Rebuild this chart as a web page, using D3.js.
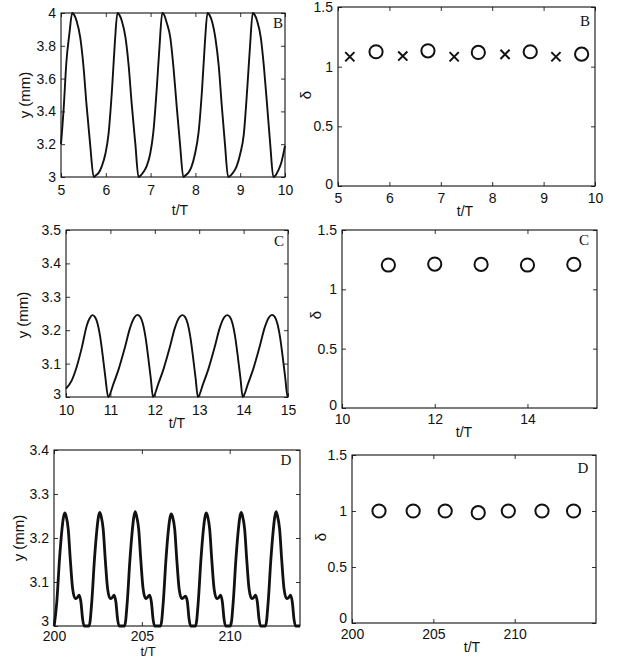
<!DOCTYPE html>
<html>
<head>
<meta charset="utf-8">
<script src="https://d3js.org/d3.v7.min.js"></script>
<style>
  body { margin: 0; background: #fff; }
  text { font-family: "Liberation Sans", Arial, sans-serif; fill: #111; }
</style>
</head>
<body>
<div id="figure"></div>
<script>

// ---- data ----

// panel B, left: y (mm) vs t/T
var bT = [5.00, 5.06, 5.12, 5.19, 5.25, 5.29, 5.35, 5.43, 5.50, 5.57, 5.65, 5.73,
  5.78, 5.84, 5.91, 5.99, 6.06, 6.14, 6.20, 6.26, 6.30, 6.36, 6.44, 6.51, 6.58, 6.66, 6.73,
  6.78, 6.84, 6.91, 6.99, 7.06, 7.14, 7.20, 7.26, 7.30, 7.36, 7.44, 7.51, 7.58, 7.66, 7.73,
  7.78, 7.84, 7.91, 7.99, 8.07, 8.15, 8.21, 8.27, 8.31, 8.37, 8.45, 8.52, 8.59, 8.66, 8.73,
  8.79, 8.85, 8.92, 9.00, 9.08, 9.16, 9.22, 9.28, 9.32, 9.38, 9.46, 9.53, 9.60, 9.67, 9.74,
  9.79, 9.85, 9.92, 10.00];
var bY = [3.20, 3.42, 3.70, 3.88, 4.00, 3.99, 3.95, 3.85, 3.68, 3.44, 3.20, 3.00,
  3.01, 3.025, 3.065, 3.14, 3.26, 3.54, 3.81, 4.00, 3.99, 3.95, 3.85, 3.68, 3.44, 3.20, 3.00,
  3.01, 3.03, 3.065, 3.14, 3.27, 3.55, 3.80, 4.00, 3.99, 3.94, 3.85, 3.67, 3.44, 3.19, 3.00,
  3.01, 3.025, 3.06, 3.14, 3.27, 3.54, 3.81, 4.00, 3.99, 3.95, 3.84, 3.68, 3.43, 3.20, 3.00,
  3.01, 3.03, 3.065, 3.14, 3.26, 3.55, 3.80, 4.00, 3.99, 3.95, 3.85, 3.67, 3.44, 3.20, 3.00,
  3.01, 3.04, 3.09, 3.19];

// panel B, right: delta
var bCircT = [5.74, 6.75, 7.73, 8.74, 9.74];
var bCircD = [1.125, 1.133, 1.119, 1.125, 1.105];
var bCrossT = [5.23, 6.26, 7.26, 8.25, 9.24];
var bCrossD = [1.083, 1.089, 1.083, 1.103, 1.083];

// panel C, left
var cT = [10.00, 10.13, 10.24, 10.36, 10.47, 10.54, 10.59, 10.65, 10.71, 10.77, 10.84, 10.89, 10.95,
  11.07, 11.19, 11.32, 11.45, 11.54, 11.61, 11.67, 11.73, 11.79, 11.86, 11.91, 11.96,
  12.08, 12.20, 12.33, 12.46, 12.55, 12.62, 12.68, 12.74, 12.80, 12.87, 12.92, 12.97,
  13.09, 13.21, 13.34, 13.47, 13.56, 13.63, 13.69, 13.75, 13.81, 13.88, 13.93, 13.98,
  14.10, 14.22, 14.35, 14.48, 14.57, 14.64, 14.70, 14.76, 14.82, 14.89, 14.94, 14.99, 15.00];
var cY = [3.025, 3.05, 3.09, 3.15, 3.215, 3.237, 3.245, 3.24, 3.22, 3.18, 3.11, 3.055, 3.00,
  3.04, 3.085, 3.145, 3.21, 3.238, 3.246, 3.24, 3.22, 3.18, 3.11, 3.055, 3.00,
  3.04, 3.085, 3.145, 3.21, 3.238, 3.245, 3.24, 3.22, 3.18, 3.11, 3.055, 3.00,
  3.04, 3.085, 3.145, 3.21, 3.238, 3.245, 3.24, 3.22, 3.18, 3.11, 3.055, 3.00,
  3.04, 3.085, 3.145, 3.21, 3.238, 3.246, 3.24, 3.22, 3.18, 3.11, 3.055, 3.00, 3.00];

// panel C, right
var cCircT = [11, 12, 13, 14, 15];
var cCircD = [1.205, 1.213, 1.21, 1.205, 1.21];

// panel D, left
var dT = [200.01, 200.16, 200.31, 200.43, 200.53, 200.61, 200.69, 200.81, 200.93, 201.06, 201.21, 201.33, 201.43, 201.53, 201.63, 201.71, 201.86,
  202.00, 202.15, 202.30, 202.42, 202.52, 202.60, 202.68, 202.80, 202.92, 203.05, 203.20, 203.32, 203.42, 203.52, 203.62, 203.70, 203.85,
  204.02, 204.17, 204.32, 204.44, 204.54, 204.62, 204.70, 204.82, 204.94, 205.07, 205.22, 205.34, 205.44, 205.54, 205.64, 205.72, 205.87,
  206.07, 206.22, 206.37, 206.49, 206.59, 206.67, 206.75, 206.87, 206.99, 207.12, 207.27, 207.39, 207.49, 207.59, 207.69, 207.77, 207.92,
  208.06, 208.21, 208.36, 208.48, 208.58, 208.66, 208.74, 208.86, 208.98, 209.11, 209.26, 209.38, 209.48, 209.58, 209.68, 209.76, 209.91,
  210.05, 210.20, 210.35, 210.47, 210.57, 210.65, 210.73, 210.85, 210.97, 211.10, 211.25, 211.37, 211.47, 211.57, 211.67, 211.75, 211.90,
  212.04, 212.19, 212.34, 212.46, 212.56, 212.64, 212.72, 212.84, 212.96, 213.09, 213.24, 213.36, 213.46, 213.56, 213.66, 213.74, 213.89, 214.00];
var dY = [3.00, 3.055, 3.15, 3.21, 3.245, 3.257, 3.25, 3.22, 3.15, 3.085, 3.062, 3.065, 3.07, 3.055, 3.015, 3.00, 3.00,
  3.00, 3.055, 3.15, 3.21, 3.246, 3.258, 3.25, 3.22, 3.15, 3.085, 3.062, 3.065, 3.07, 3.055, 3.015, 3.00, 3.00,
  3.00, 3.055, 3.15, 3.21, 3.247, 3.26, 3.25, 3.22, 3.15, 3.085, 3.062, 3.066, 3.07, 3.055, 3.015, 3.00, 3.00,
  3.00, 3.055, 3.15, 3.21, 3.244, 3.255, 3.248, 3.22, 3.15, 3.085, 3.062, 3.065, 3.068, 3.055, 3.015, 3.00, 3.00,
  3.00, 3.055, 3.15, 3.21, 3.245, 3.257, 3.25, 3.22, 3.15, 3.085, 3.062, 3.065, 3.07, 3.055, 3.015, 3.00, 3.00,
  3.00, 3.055, 3.15, 3.21, 3.246, 3.258, 3.25, 3.22, 3.15, 3.085, 3.062, 3.065, 3.07, 3.055, 3.015, 3.00, 3.00,
  3.00, 3.055, 3.15, 3.21, 3.247, 3.26, 3.25, 3.22, 3.15, 3.085, 3.062, 3.065, 3.07, 3.055, 3.015, 3.00, 3.00, 3.00];

// panel D, right
var dCircT = [201.66, 203.76, 205.73, 207.76, 209.61, 211.68, 213.62];
var dCircD = [1.0, 1.0, 1.0, 0.985, 1.0, 1.0, 1.0];

// tick values
var yTicksB = [3, 3.2, 3.4, 3.6, 3.8, 4];
var yTicksC = [3, 3.1, 3.2, 3.3, 3.4, 3.5];
var yTicksD = [3, 3.1, 3.2, 3.3, 3.4];
var deltaTicks = [0, 0.5, 1, 1.5];
var xTicksB = [5, 6, 7, 8, 9, 10];
var xTicksC = [10, 11, 12, 13, 14, 15];
var xTicksCd = [10, 12, 14];
var xTicksD = [200, 205, 210];

// ---- drawing ----

var svg = d3.select("#figure")
    .append("svg")
    .attr("width", 621)
    .attr("height", 658);

var fmt = d3.format("~g");

function zip(a, b) {
  return a.map(function(v, i) { return [v, b[i]]; });
}

function drawPanel(p) {

  var x = d3.scaleLinear().domain(p.xDomain).range([p.left, p.right]);
  var y = d3.scaleLinear().domain(p.yDomain).range([p.bottom, p.top]);

  var g = svg.append("g");

  // matlab style: ticks point inward, mirrored on top/right
  g.append("g")
      .attr("transform", `translate(0, ${p.bottom})`)
      .call(d3.axisBottom(x).tickValues(p.xTicks).tickFormat(fmt).tickSize(-4).tickPadding(p.xPad));
  var axL = g.append("g")
      .attr("transform", `translate(${p.left}, 0)`)
      .call(d3.axisLeft(y).tickValues(p.yTicks).tickFormat(fmt).tickSize(-4).tickPadding(5));
  g.append("g")
      .attr("transform", `translate(0, ${p.top})`)
      .call(d3.axisTop(x).tickValues(p.xTicks).tickFormat("").tickSize(-4));
  g.append("g")
      .attr("transform", `translate(${p.right}, 0)`)
      .call(d3.axisRight(y).tickValues(p.yTicks).tickFormat("").tickSize(-4));

  g.selectAll(".domain").remove();
  g.selectAll(".tick line").attr("stroke", "#333");
  g.selectAll(".tick text")
      .attr("font-family", "'Liberation Sans', Arial, sans-serif")
      .attr("font-size", "14px")
      .attr("fill", "#111");

  // lowest y label sits a bit above its tick so it clears the x labels
  axL.selectAll(".tick text")
      .filter(d => d === p.yDomain[0])
      .attr("y", -p.lowShift);

  g.append("rect")
      .attr("x", p.left)
      .attr("y", p.top)
      .attr("width", p.right - p.left)
      .attr("height", p.bottom - p.top)
      .attr("fill", "none")
      .attr("stroke", "#111")
      .attr("stroke-width", 1.1);

  // curve
  if (p.line) {
    var line = d3.line()
        .x(d => x(d[0]))
        .y(d => y(d[1]))
        .curve(d3.curveMonotoneX);
    g.append("path")
        .datum(p.line)
        .attr("d", line)
        .attr("fill", "none")
        .attr("stroke", "#111")
        .attr("stroke-width", p.lineWidth)
        .attr("stroke-linejoin", "round");
  }

  if (p.circles) {
    g.selectAll("circle.mk")
        .data(p.circles)
        .enter()
        .append("circle")
        .attr("class", "mk")
        .attr("cx", d => x(d[0]))
        .attr("cy", d => y(d[1]))
        .attr("r", 6.6)
        .attr("fill", "none")
        .attr("stroke", "#111")
        .attr("stroke-width", 2);
  }

  if (p.crosses) {
    var s = 4.6;
    g.selectAll("path.cross")
        .data(p.crosses)
        .enter()
        .append("path")
        .attr("class", "cross")
        .attr("d", function(d) {
          var cx = x(d[0]), cy = y(d[1]);
          return `M${cx - s},${cy - s}L${cx + s},${cy + s}M${cx - s},${cy + s}L${cx + s},${cy - s}`;
        })
        .attr("stroke", "#111")
        .attr("stroke-width", 2);
  }

  // axis labels
  g.append("text")
      .attr("transform", `translate(${p.yLabelPos[0]}, ${p.yLabelPos[1]}) rotate(-90)`)
      .attr("text-anchor", "middle")
      .attr("dominant-baseline", "central")
      .attr("font-size", "15px")
      .text(p.yLabel);

  // xLabelPos y is the baseline
  g.append("text")
      .attr("x", p.xLabelPos[0])
      .attr("y", p.xLabelPos[1])
      .attr("text-anchor", "middle")
      .attr("font-size", p.xLabelSize)
      .text("t/T");

  g.append("text")
      .attr("x", p.letterPos[0])
      .attr("y", p.letterPos[1])
      .attr("text-anchor", "middle")
      .attr("dominant-baseline", "central")
      .attr("font-size", "15px")
      .style("font-family", "'Liberation Serif', 'Times New Roman', serif")
      .text(p.letter);
}

var panels = [
  { left: 61, right: 285, top: 13, bottom: 177, xDomain: [5, 10], yDomain: [3, 4],
    xTicks: xTicksB, yTicks: yTicksB, xPad: 8, lowShift: 0,
    line: zip(bT, bY), lineWidth: 1.9,
    yLabel: "y (mm)", yLabelPos: [24, 95], xLabelPos: [180, 215], xLabelSize: "14px",
    letter: "B", letterPos: [278, 23] },
  { left: 338, right: 595, top: 7, bottom: 186, xDomain: [5, 10], yDomain: [0, 1.5],
    xTicks: xTicksB, yTicks: deltaTicks, xPad: 7, lowShift: 2,
    circles: zip(bCircT, bCircD), crosses: zip(bCrossT, bCrossD),
    yLabel: "δ", yLabelPos: [305, 95], xLabelPos: [465, 216], xLabelSize: "14px",
    letter: "B", letterPos: [585, 21] },
  { left: 66, right: 288, top: 230, bottom: 397, xDomain: [10, 15], yDomain: [3, 3.5],
    xTicks: xTicksC, yTicks: yTicksC, xPad: 8, lowShift: 3,
    line: zip(cT, cY), lineWidth: 1.9,
    yLabel: "y (mm)", yLabelPos: [22, 315], xLabelPos: [177, 428], xLabelSize: "14px",
    letter: "C", letterPos: [279, 241] },
  { left: 342, right: 597, top: 230, bottom: 408, xDomain: [10, 15.5], yDomain: [0, 1.5],
    xTicks: xTicksCd, yTicks: deltaTicks, xPad: 6, lowShift: 3,
    circles: zip(cCircT, cCircD),
    yLabel: "δ", yLabelPos: [315, 315], xLabelPos: [464, 437], xLabelSize: "14px",
    letter: "C", letterPos: [584, 240] },
  { left: 54, right: 300, top: 450, bottom: 626, xDomain: [200, 214], yDomain: [3, 3.4],
    xTicks: xTicksD, yTicks: yTicksD, xPad: 5.5, lowShift: 5,
    line: zip(dT, dY), lineWidth: 2.8,
    yLabel: "y (mm)", yLabelPos: [18, 538], xLabelPos: [148, 656], xLabelSize: "13px",
    letter: "D", letterPos: [286, 460] },
  { left: 352, right: 596, top: 455, bottom: 623, xDomain: [200, 215], yDomain: [0, 1.5],
    xTicks: xTicksD, yTicks: deltaTicks, xPad: 6, lowShift: 5,
    circles: zip(dCircT, dCircD),
    yLabel: "δ", yLabelPos: [320, 537], xLabelPos: [472, 652], xLabelSize: "14px",
    letter: "D", letterPos: [583, 468] }
];

panels.forEach(drawPanel);

</script>
</body>
</html>
